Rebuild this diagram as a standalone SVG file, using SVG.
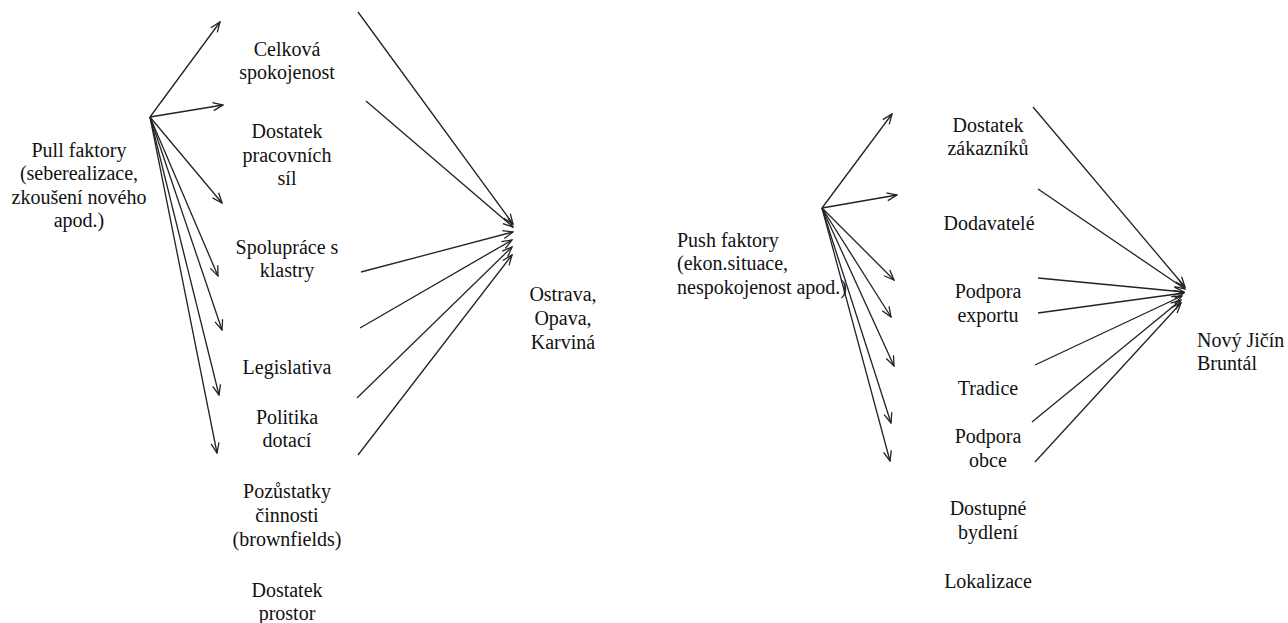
<svg xmlns="http://www.w3.org/2000/svg" width="1288" height="623" viewBox="0 0 1288 623">
<style>
text{font-family:"Liberation Serif","Times New Roman",serif;font-size:20px;fill:#111}
.c{text-anchor:middle}
.l{stroke:#222;stroke-width:1.3;fill:none;marker-end:url(#a)}
</style>
<defs>
<marker id="a" viewBox="0 0 12 10" refX="11" refY="5" markerWidth="12" markerHeight="10" orient="auto" markerUnits="userSpaceOnUse">
<path d="M1,1 L11,5 L1,9" fill="none" stroke="#222" stroke-width="1.3"/>
</marker>
</defs>
<rect width="1288" height="623" fill="#fff"/>
<g id="connectors">
<line class="l" x1="150" y1="117" x2="220" y2="22"/>
<line class="l" x1="150" y1="117" x2="223" y2="105"/>
<line class="l" x1="150" y1="117" x2="222" y2="203"/>
<line class="l" x1="150" y1="117" x2="218" y2="276"/>
<line class="l" x1="150" y1="117" x2="222" y2="330"/>
<line class="l" x1="150" y1="117" x2="219" y2="395"/>
<line class="l" x1="150" y1="117" x2="217" y2="453"/>
<line class="l" x1="358" y1="12" x2="513" y2="224"/>
<line class="l" x1="366" y1="101" x2="513" y2="227"/>
<line class="l" x1="361" y1="272" x2="513" y2="232"/>
<line class="l" x1="360" y1="328" x2="512" y2="240"/>
<line class="l" x1="357" y1="398" x2="512" y2="247"/>
<line class="l" x1="358" y1="455" x2="512" y2="255"/>
<line class="l" x1="822" y1="208" x2="892" y2="114"/>
<line class="l" x1="822" y1="208" x2="897" y2="195"/>
<line class="l" x1="822" y1="208" x2="894" y2="280"/>
<line class="l" x1="822" y1="208" x2="891" y2="317"/>
<line class="l" x1="822" y1="208" x2="894" y2="366"/>
<line class="l" x1="822" y1="208" x2="891" y2="423"/>
<line class="l" x1="822" y1="208" x2="890" y2="461"/>
<line class="l" x1="1033" y1="107" x2="1185" y2="287"/>
<line class="l" x1="1038" y1="189" x2="1185" y2="289"/>
<line class="l" x1="1038" y1="278" x2="1184" y2="292"/>
<line class="l" x1="1038" y1="313" x2="1184" y2="293"/>
<line class="l" x1="1035" y1="365" x2="1182" y2="296"/>
<line class="l" x1="1032" y1="422" x2="1181" y2="300"/>
<line class="l" x1="1035" y1="462" x2="1181" y2="303"/>
</g>
<g id="pull"><text class="c" x="79" y="157">Pull faktory</text><text class="c" x="79" y="180">(seberealizace,</text><text class="c" x="79" y="204">zkoušení nového</text><text class="c" x="79" y="227">apod.)</text></g>
<g id="celkova"><text class="c" x="287" y="56">Celková</text><text class="c" x="287" y="79">spokojenost</text></g>
<g id="pracovni"><text class="c" x="287" y="138">Dostatek</text><text class="c" x="287" y="162">pracovních</text><text class="c" x="287" y="185">síl</text></g>
<g id="klastry"><text class="c" x="287" y="254">Spolupráce s</text><text class="c" x="287" y="277">klastry</text></g>
<g id="legislativa"><text class="c" x="287" y="374">Legislativa</text></g>
<g id="dotace"><text class="c" x="287" y="424">Politika</text><text class="c" x="287" y="447">dotací</text></g>
<g id="brownfields"><text class="c" x="287" y="498">Pozůstatky</text><text class="c" x="287" y="522">činnosti</text><text class="c" x="287" y="546">(brownfields)</text></g>
<g id="prostor"><text class="c" x="287" y="597">Dostatek</text><text class="c" x="287" y="620">prostor</text></g>
<g id="ostrava"><text class="c" x="563" y="301">Ostrava,</text><text class="c" x="563" y="325">Opava,</text><text class="c" x="563" y="349">Karviná</text></g>
<g id="push"><text x="677" y="247">Push faktory</text><text x="677" y="270">(ekon.situace,</text><text x="677" y="294">nespokojenost apod.)</text></g>
<g id="zakaznici"><text class="c" x="988" y="132">Dostatek</text><text class="c" x="988" y="155">zákazníků</text></g>
<g id="dodavatele"><text class="c" x="989" y="230">Dodavatelé</text></g>
<g id="export"><text class="c" x="988" y="298">Podpora</text><text class="c" x="988" y="322">exportu</text></g>
<g id="tradice"><text class="c" x="988" y="395">Tradice</text></g>
<g id="obce"><text class="c" x="988" y="443">Podpora</text><text class="c" x="988" y="467">obce</text></g>
<g id="bydleni"><text class="c" x="988" y="515">Dostupné</text><text class="c" x="988" y="539">bydlení</text></g>
<g id="lokalizace"><text class="c" x="988" y="588">Lokalizace</text></g>
<g id="jicin"><text x="1197" y="347">Nový Jičín</text><text x="1197" y="370">Bruntál</text></g>
</svg>
